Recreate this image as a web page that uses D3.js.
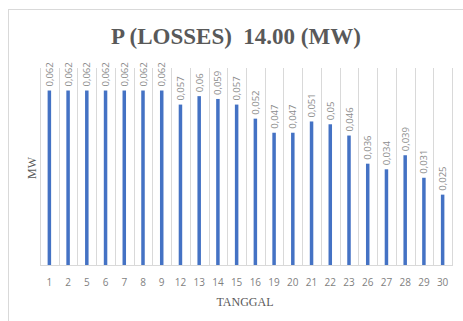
<!DOCTYPE html>
<html>
<head>
<meta charset="utf-8">
<script src="https://cdn.jsdelivr.net/npm/d3@7"></script>
<style>
  body { margin: 0; background: #fff; }
  svg { display: block; }
</style>
</head>
<body>
<div id="chart"></div>
<script>
// tanggal (day of month) and losses in MW
const dates = ["1","2","5","6","7","8","9","12","13","14","15","16","19","20","21","22","23","26","27","28","29","30"];
const losses = [0.062,0.062,0.062,0.062,0.062,0.062,0.062,0.057,0.06,0.059,0.057,0.052,0.047,0.047,0.051,0.05,0.046,0.036,0.034,0.039,0.031,0.025];
const yDomain = [0, 0.07];

const width = 463, height = 321;
const plot = { left: 40, right: 452, top: 68, bottom: 265 };

const svg = d3.select("#chart").append("svg")
    .attr("width", width)
    .attr("height", height);

// chart area border (cropped at the right / bottom like the screenshot)
svg.append("rect")
    .attr("x", 8.5).attr("y", 9.5)
    .attr("width", 480).attr("height", 330)
    .attr("fill", "none")
    .attr("stroke", "#d9d9d9");

const x = d3.scaleBand().domain(dates).range([plot.left, plot.right]);
const y = d3.scaleLinear().domain(yDomain).range([plot.bottom, plot.top]);

// vertical gridlines at category boundaries
const bounds = dates.map(d => x(d)).concat([plot.right]);
svg.append("g").selectAll("line")
    .data(bounds)
    .join("line")
    .attr("x1", d => Math.round(d) + 0.5)
    .attr("x2", d => Math.round(d) + 0.5)
    .attr("y1", plot.top)
    .attr("y2", plot.bottom)
    .attr("stroke", "#d9d9d9");

// category axis line
svg.append("line")
    .attr("x1", plot.left).attr("x2", plot.right + 1)
    .attr("y1", plot.bottom + 0.5).attr("y2", plot.bottom + 0.5)
    .attr("stroke", "#d9d9d9");

const barW = 3.5;
svg.append("g").selectAll("rect")
    .data(losses)
    .join("rect")
    .attr("x", (d, i) => x(dates[i]) + x.bandwidth() / 2 - barW / 2)
    .attr("y", d => y(d))
    .attr("width", barW)
    .attr("height", d => plot.bottom - y(d))
    .attr("fill", "#4472c4");

// data labels, rotated
svg.append("g").selectAll("text")
    .data(losses)
    .join("text")
    .attr("transform", (d, i) => {
        let cx = x(dates[i]) + x.bandwidth() / 2 + 3.5;
        return "translate(" + cx + "," + (y(d) - 4) + ") rotate(-90)";
    })
    .attr("font-family", "'Open Sans', 'Liberation Sans', sans-serif")
    .attr("font-size", 9.5)
    .attr("fill", "#8c8c8c")
    .text(d => String(d).replace(".", ","));

// tick labels
svg.append("g").selectAll("text")
    .data(dates)
    .join("text")
    .attr("x", d => x(d) + x.bandwidth() / 2)
    .attr("y", 286)
    .attr("text-anchor", "middle")
    .attr("font-family", "'Open Sans', 'Liberation Sans', sans-serif")
    .attr("font-size", 10)
    .attr("fill", "#7f7f7f")
    .text(d => d);

// title
svg.append("text")
    .attr("x", 236)
    .attr("y", 44)
    .attr("text-anchor", "middle")
    .attr("font-family", "'Liberation Serif', serif")
    .attr("font-weight", "bold")
    .attr("font-size", 23)
    .attr("fill", "#595959")
    .attr("xml:space", "preserve")
    .text("P (LOSSES)  14.00 (MW)");

// axis titles
svg.append("text")
    .attr("x", 245)
    .attr("y", 306)
    .attr("text-anchor", "middle")
    .attr("font-family", "'Liberation Serif', serif")
    .attr("font-size", 12)
    .attr("fill", "#595959")
    .text("TANGGAL");

svg.append("text")
    .attr("transform", "translate(36,168) rotate(-90)")
    .attr("text-anchor", "middle")
    .attr("font-family", "'Liberation Serif', serif")
    .attr("font-size", 12)
    .attr("fill", "#595959")
    .text("MW");
</script>
</body>
</html>
